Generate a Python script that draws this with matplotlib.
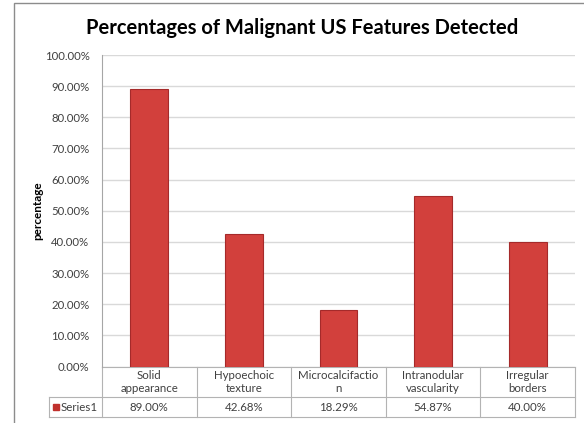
import matplotlib.pyplot as plt
from matplotlib.patches import Rectangle
from matplotlib.lines import Line2D

categories = ["Solid\nappearance", "Hypoechoic\ntexture", "Microcalcifactio\nn",
              "Intranodular\nvascularity", "Irregular\nborders"]
values = [89.00, 42.68, 18.29, 54.87, 40.00]
series_name = "Series1"
yticks = [0, 10, 20, 30, 40, 50, 60, 70, 80, 90, 100]

plt.rcParams['font.family'] = ['Lato', 'DejaVu Sans']

W, H = 584, 423
fig = plt.figure(figsize=(W / 100, H / 100), dpi=100)

# outer chart border (continues beyond the bottom/right of the image)
fig.patches.append(Rectangle((14 / W, -0.1), 1.2, (H - 3.5) / H + 0.1,
                             transform=fig.transFigure, fill=False,
                             edgecolor='#8c8c8c', linewidth=1.0))

left, right, top, bottom = 102, 575, 55, 366.5
ax = fig.add_axes([left / W, 1 - bottom / H, (right - left) / W, (bottom - top) / H])

x = list(range(len(values)))
ax.bar(x, values, width=0.40, color='#d2403c', edgecolor='#a52a2a', linewidth=0.8, zorder=3)

ax.set_xlim(-0.5, len(values) - 0.5)
ax.set_ylim(0, 100)
ax.set_yticks(yticks)
ax.set_yticklabels(["%.2f%%" % v for v in yticks], fontsize=8.2, color='#404040')
ax.tick_params(axis='y', length=0, pad=9)
ax.set_xticks([])
ax.yaxis.grid(True, color='#d9d9d9', linewidth=1.0, zorder=0)
for s in ['top', 'right', 'bottom']:
    ax.spines[s].set_visible(False)
ax.spines['left'].set_color('#a6a6a6')

ax.set_ylabel("percentage", fontsize=8.5, fontweight='bold', labelpad=6)
ax.yaxis.set_label_coords(-(left - 43) / (right - left), 0.5)

fig.text(0.5 * (85 + 520) / W, 1 - 28 / H, "Percentages of Malignant US Features Detected",
         fontsize=14.5, fontweight='bold', ha='center', va='center')

# data table below the axis
to_ax_x = lambda px: (px - left) / (right - left)
to_ax_y = lambda py: (bottom - py) / (bottom - top)
row1, row2 = 397, 417
tab_left = 49
lc = '#b3b3b3'
col_w = (right - left) / len(values)

def line(x0, x1, y0, y1):
    ax.add_line(Line2D([to_ax_x(x0), to_ax_x(x1)], [to_ax_y(y0), to_ax_y(y1)],
                       transform=ax.transAxes, color=lc, linewidth=0.8, clip_on=False))

line(left, right, bottom, bottom)
line(tab_left, right, row1, row1)
line(tab_left, right, row2, row2)
line(tab_left, tab_left, row1, row2)
for i in range(len(values) + 1):
    line(left + i * col_w, left + i * col_w, bottom, row2)

for i, (c, v) in enumerate(zip(categories, values)):
    cx = to_ax_x(left + (i + 0.5) * col_w)
    ax.text(cx, to_ax_y((bottom + row1) / 2 + 0.5), c, transform=ax.transAxes,
            ha='center', va='center', fontsize=8.3, color='#404040', linespacing=1.2)
    ax.text(cx, to_ax_y((row1 + row2) / 2 + 0.5), "%.2f%%" % v, transform=ax.transAxes,
            ha='center', va='center', fontsize=8.3, color='#404040')

ax.add_patch(Rectangle((to_ax_x(52.5), to_ax_y(410)), 6 / (right - left), 6 / (bottom - top),
                       transform=ax.transAxes, color='#c0302c', clip_on=False))
ax.text(to_ax_x(61), to_ax_y((row1 + row2) / 2 + 0.5), series_name, transform=ax.transAxes,
        ha='left', va='center', fontsize=8.3, color='#404040')

fig.savefig("out.png", dpi=100)
